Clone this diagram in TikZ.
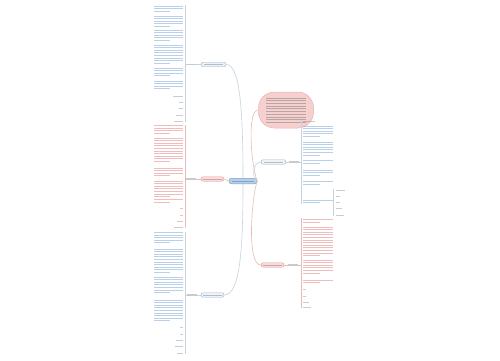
\documentclass[tikz,border=0pt]{standalone}
\definecolor{bluetxt}{HTML}{4A86C8}
\definecolor{redtxt}{HTML}{D9534F}
\definecolor{graytxt}{HTML}{7A7A7A}
\definecolor{cfill}{HTML}{B7CFE8}
\definecolor{cdraw}{HTML}{7BA3CF}
\definecolor{bfill}{HTML}{EEF2F7}
\definecolor{bdraw}{HTML}{9FB5CC}
\definecolor{rfill}{HTML}{F8DADA}
\definecolor{rdraw}{HTML}{E09A9A}
\definecolor{blobfill}{HTML}{F6CFCF}
\definecolor{blobdraw}{HTML}{EDB0B0}
\definecolor{conblue}{HTML}{C5D3E0}
\definecolor{conred}{HTML}{EBB9B9}
\tikzset{
  x=1pt, y=-1pt,
  txtline/.style={line width=0.85pt, opacity=0.38},
  centerbox/.style={draw=cdraw, fill=cfill, rounded corners=2.5pt, minimum width=28pt, minimum height=5.5pt, inner sep=0pt, line width=0.5pt},
  bluebox/.style={draw=bdraw, fill=bfill, rounded corners=2.2pt, minimum width=25pt, minimum height=4.5pt, inner sep=0pt, line width=0.4pt},
  redbox/.style={draw=rdraw, fill=rfill, rounded corners=2.2pt, minimum width=23pt, minimum height=4.5pt, inner sep=0pt, line width=0.4pt},
  blobbox/.style={draw=blobdraw, fill=blobfill, rounded corners=16pt, minimum width=55pt, minimum height=36pt, inner sep=0pt, line width=0.5pt},
  lbl/.style={fill=graytxt!40, minimum width=10pt, minimum height=1.1pt, inner sep=0pt},
  conb/.style={draw=conblue, line width=0.6pt},
  conr/.style={draw=conred, line width=0.6pt},
  brb/.style={draw=conblue, line width=0.5pt},
  brr/.style={draw=conred, line width=0.5pt},
}
% paragraph of text lines: x1, x2, y1, number of lines, colour
\newcommand\mmpara[5]{%
  \pgfmathtruncatemacro\mmn{#4-1}%
  \ifnum\mmn>0
    \foreach \i in {1,...,\mmn}{\draw[#5,txtline] (#1,{#3+(\i-1)*2.6}) -- (#2,{#3+(\i-1)*2.6});}%
  \fi
  \draw[#5,txtline] (#1,{#3+\mmn*2.6}) -- ({#1+0.55*(#2-#1)},{#3+\mmn*2.6});%
}
% short item, right aligned at x
\newcommand\mmshortR[4]{\draw[#4,txtline] ({#1-#3},#2) -- (#1,#2);}
% short item, left aligned at x
\newcommand\mmshortL[4]{\draw[#4,txtline] (#1,#2) -- ({#1+#3},#2);}
\begin{document}
\begin{tikzpicture}
\useasboundingbox (0,0) rectangle (500,360);
\fill[white] (0,0) rectangle (500,360);

% ---------- main nodes ----------
\node[centerbox] (c) at (243,181) {};
\node[bluebox] (b1) at (213.5,64.5) {};
\node[redbox] (b2) at (212.5,179) {};
\node[bluebox, minimum width=23pt] (b3) at (212.5,295) {};
\node[bluebox] (b4) at (273.5,162) {};
\node[redbox] (b5) at (272.5,265) {};
\node[blobbox] (blob) at (286,110) {};

% text marks inside nodes
\draw[cdraw!70!black, line width=0.8pt, opacity=0.45] (232,181) -- (254,181);
\draw[bdraw!70!black, line width=0.7pt, opacity=0.45] (204,64.5) -- (223,64.5);
\draw[rdraw!70!black, line width=0.7pt, opacity=0.45] (203,179) -- (222,179);
\draw[bdraw!70!black, line width=0.7pt, opacity=0.45] (203,295) -- (222,295);
\draw[bdraw!70!black, line width=0.7pt, opacity=0.45] (264,162) -- (283,162);
\draw[rdraw!70!black, line width=0.7pt, opacity=0.45] (263,265) -- (282,265);
\foreach \k in {0,...,9}{\draw[graytxt!70!black, line width=0.8pt, opacity=0.35] (266,{98+\k*2.7}) -- (306,{98+\k*2.7});}

% ---------- labels ----------
\node[lbl] (l1) at (192,64.5) {};
\node[lbl] (l2) at (191,179) {};
\node[lbl] (l3) at (192,295) {};
\node[lbl] (l4) at (294,162) {};
\node[lbl] (l5) at (293,265) {};

% ---------- connectors from centre ----------
\draw[conb] (c.north) .. controls (243,110) and (240,64.5) .. (b1.east);
\draw[conr] (c.west) -- (b2.east);
\draw[conb] (c.south) .. controls (243,250) and (240,295) .. (b3.east);
\draw[conr] (c.east) .. controls (252,170) and (246,110) .. (blob.west);
\draw[conb] (c.east) .. controls (252,181) and (252,162) .. (b4.west);
\draw[conr] (c.east) .. controls (252,195) and (246,265) .. (b5.west);

% node -> label
\draw[conb] (b1.west) -- (l1.east);
\draw[conr] (b2.west) -- (l2.east);
\draw[conb] (b3.west) -- (l3.east);
\draw[conb] (b4.east) -- (l4.west);
\draw[conr] (b5.east) -- (l5.west);

% brackets
\coordinate (k1) at (185.5,64.5);
\coordinate (k2) at (185.5,179);
\coordinate (k3) at (185.5,295);
\coordinate (k4) at (301,162);
\coordinate (k5) at (301,265);
\draw[brb] (185.5,5) -- (185.5,122);
\draw[brr] (185.5,125) -- (185.5,228);
\draw[brb] (185.5,232) -- (185.5,354);
\draw[brb] (301,120) -- (301,204);
\draw[brr] (301,218) -- (301,308);
\draw[conb] (l1.west) -- (k1);
\draw[conr] (l2.west) -- (k2);
\draw[conb] (l3.west) -- (k3);
\draw[conb] (l4.east) -- (k4);
\draw[conr] (l5.east) -- (k5);

% ---------- branch 1 children (blue) ----------
\mmpara{154}{183}{6}{3}{bluetxt}
\mmpara{154}{183}{16}{5}{bluetxt}
\mmpara{154}{183}{30}{5}{bluetxt}
\mmpara{154}{183}{45}{8}{bluetxt}
\mmpara{154}{183}{68}{4}{bluetxt}
\mmpara{154}{183}{81}{4}{bluetxt}
\mmshortR{183}{96}{10}{graytxt}
\mmshortR{183}{102}{4}{graytxt}
\mmshortR{183}{108}{4}{graytxt}
\mmshortR{183}{115}{7}{graytxt}
\mmshortR{183}{121}{9}{graytxt}

% ---------- branch 2 children (red) ----------
\mmpara{154}{183}{125.5}{4}{redtxt}
\mmpara{154}{183}{138}{10}{redtxt}
\mmpara{154}{183}{168}{4}{redtxt}
\mmpara{154}{183}{181}{7}{redtxt}
\mmpara{154}{183}{199.5}{2}{redtxt}
\mmshortR{183}{208}{3}{graytxt}
\mmshortR{183}{215}{3}{graytxt}
\mmshortR{183}{221}{6}{graytxt}
\mmshortR{183}{227}{9}{graytxt}

% ---------- branch 3 children (blue) ----------
\mmpara{154}{183}{232.5}{5}{bluetxt}
\mmpara{154}{183}{249}{10}{bluetxt}
\mmpara{154}{183}{277}{7}{bluetxt}
\mmpara{154}{183}{300}{9}{bluetxt}
\mmshortR{183}{327}{3}{graytxt}
\mmshortR{183}{334}{3}{graytxt}
\mmshortR{183}{340}{7}{graytxt}
\mmshortR{183}{346}{8}{graytxt}
\mmshortR{183}{353}{6}{graytxt}

% ---------- branch 4 children (blue) ----------
\mmshortL{303}{121.5}{12}{graytxt}
\mmpara{303}{333}{126}{5}{bluetxt}
\mmpara{303}{333}{142}{6}{bluetxt}
\mmpara{303}{333}{160.5}{2}{bluetxt}
\mmpara{303}{333}{170}{3}{bluetxt}
\mmpara{303}{333}{181.5}{2}{bluetxt}
\mmpara{303}{333}{200}{2}{bluetxt}
\coordinate (s4) at (333.5,202);
\draw[brb] (333.5,189) -- (333.5,216);
\mmshortL{336}{190}{9}{graytxt}
\mmshortL{336}{196}{4}{graytxt}
\mmshortL{336}{202}{4}{graytxt}
\mmshortL{336}{208}{6}{graytxt}
\mmshortL{336}{215}{8}{graytxt}

% ---------- branch 5 children (red) ----------
\mmpara{303}{333}{219.5}{2}{redtxt}
\mmpara{303}{333}{227}{12}{redtxt}
\mmpara{303}{333}{260}{6}{redtxt}
\mmpara{303}{333}{280}{2}{redtxt}
\mmshortL{303}{289}{3}{graytxt}
\mmshortL{303}{296}{3}{graytxt}
\mmshortL{303}{302}{6}{graytxt}
\mmshortL{303}{307}{8}{graytxt}
\end{tikzpicture}
\end{document}
